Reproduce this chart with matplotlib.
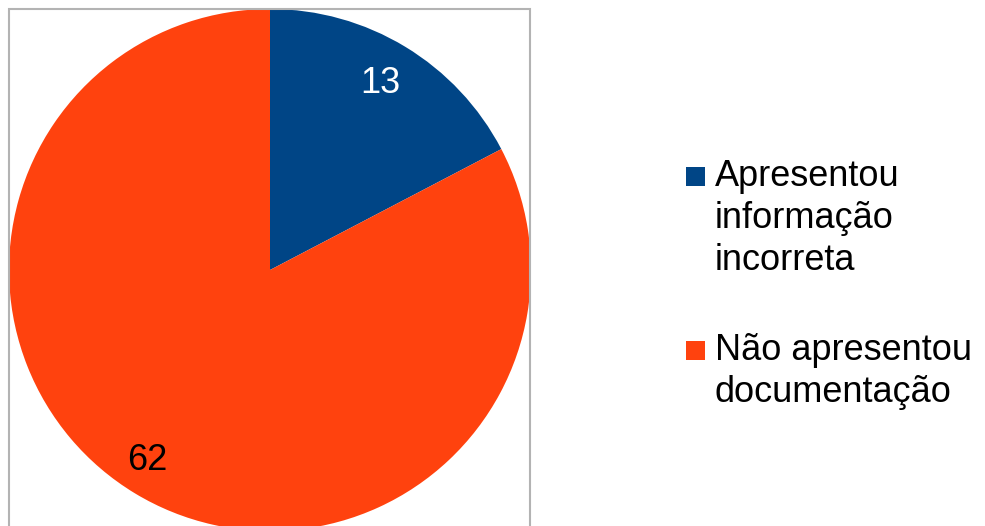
import matplotlib.pyplot as plt
from matplotlib.patches import Rectangle

plt.rcParams['font.family'] = ['Liberation Sans', 'DejaVu Sans']

# dados
categorias = ['Apresentou\ninformação\nincorreta', 'Não apresentou\ndocumentação']
valores = [13, 62]
cores = ['#004586', '#ff420e']
cor_rotulos = ['white', 'black']

W, H = 985, 526
fig = plt.figure(figsize=(W / 100, H / 100), dpi=100)

# pizza: centro (270, 270) px, raio 261 px
cx, cy, r = 270, 270, 261
ax = fig.add_axes([(cx - r) / W, (H - cy - r) / H, 2 * r / W, 2 * r / H])
total = sum(valores)
wedges, textos, autotextos = ax.pie(
    valores, colors=cores, startangle=90, counterclock=False,
    autopct=lambda p: f'{round(p * total / 100)}', pctdistance=0.855,
    wedgeprops=dict(linewidth=0), radius=1.0,
    textprops=dict(fontsize=26))
# pequeno ajuste fino da posição dos rótulos (px -> unidades do raio)
ajustes = [(-5, -4), (-7, 0)]
for t, c, (dx, dy) in zip(autotextos, cor_rotulos, ajustes):
    t.set_color(c)
    x, y = t.get_position()
    t.set_position((x + dx / r, y + dy / r))
ax.set_xlim(-1, 1)
ax.set_ylim(-1, 1)
ax.set_aspect('equal')
ax.axis('off')

# moldura cinza da área do gráfico
fig.patches.append(Rectangle((9 / W, -0.1), (530 - 9) / W, 1.1 - 9 / H,
                             transform=fig.transFigure, fill=False,
                             edgecolor='#b3b3b3', linewidth=1.5, zorder=0))

# legenda desenhada à mão (quadrado alinhado à primeira linha)
leg_x, leg_topo = 686, [167, 341]
lado = 19
passo = 42
for nome, cor, y0 in zip(categorias, cores, leg_topo):
    fig.patches.append(Rectangle((leg_x / W, 1 - (y0 + lado) / H), lado / W, lado / H,
                                 transform=fig.transFigure, facecolor=cor,
                                 edgecolor='none'))
    for i, linha in enumerate(nome.split('\n')):
        fig.text(715 / W, 1 - (y0 + 19 + i * passo) / H, linha, fontsize=26,
                 va='baseline', ha='left')

fig.savefig('out.png', dpi=100)
